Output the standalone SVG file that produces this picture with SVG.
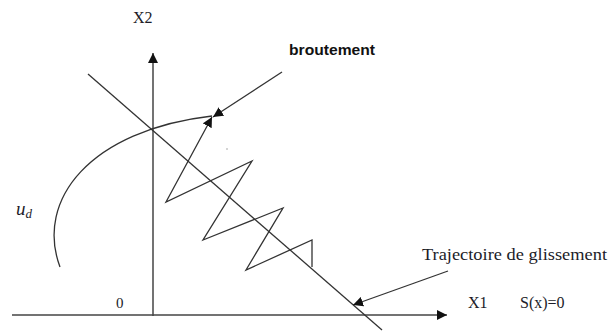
<svg xmlns="http://www.w3.org/2000/svg" width="609" height="336" viewBox="0 0 609 336">
<style>
.ln{stroke:#333;stroke-width:1.3;fill:none}
.ax{stroke:#444;stroke-width:1.5;fill:none}
.serif{font-family:"Liberation Serif","Times New Roman",serif;fill:#1c1c28}
.bold{font-family:"Liberation Sans",Arial,sans-serif;font-weight:bold;fill:#111}
</style>
<defs>
<marker id="ah" viewBox="0 0 10 10" refX="10" refY="5" markerWidth="10" markerHeight="10" markerUnits="userSpaceOnUse" orient="auto">
<path d="M0,0 L10,5 L0,10 z" fill="#111"/>
</marker>
</defs>
<rect width="609" height="336" fill="#fff"/>
<g id="axes">
<line class="ax" x1="153" y1="316" x2="153" y2="53" marker-end="url(#ah)"/>
<line class="ax" x1="12" y1="315" x2="447" y2="315" marker-end="url(#ah)"/>
</g>
<g id="surface">
<line class="ln" x1="88" y1="74" x2="382" y2="330"/>
</g>
<g id="connectors">
<path class="ln" d="M60 267 C35 200 90 130 212 116"/>
<polyline class="ln" points="312,267 312,240 246,270 283,208 203,240 252,161 166,202 212,117" marker-end="url(#ah)"/>
<line class="ln" x1="282" y1="72" x2="213" y2="117" marker-end="url(#ah)"/>
<line class="ln" x1="448" y1="271" x2="353" y2="305" marker-end="url(#ah)"/>
<circle cx="227" cy="149" r="0.7" fill="#888"/>
</g>
<g id="labels">
<text class="serif" x="133" y="23" font-size="16">X2</text>
<text class="bold" x="289" y="55" font-size="14.5" textLength="86" lengthAdjust="spacingAndGlyphs">broutement</text>
<text class="serif" x="422" y="260" font-size="17" textLength="185" lengthAdjust="spacingAndGlyphs">Trajectoire de glissement</text>
<text class="serif" x="468" y="308" font-size="16">X1</text>
<text class="serif" x="520" y="308" font-size="16">S(x)=0</text>
<text class="serif" x="116" y="308" font-size="15">0</text>
<text class="serif" x="16" y="215" font-size="19" font-style="italic">u<tspan font-size="13" dy="3">d</tspan></text>
</g>
</svg>
